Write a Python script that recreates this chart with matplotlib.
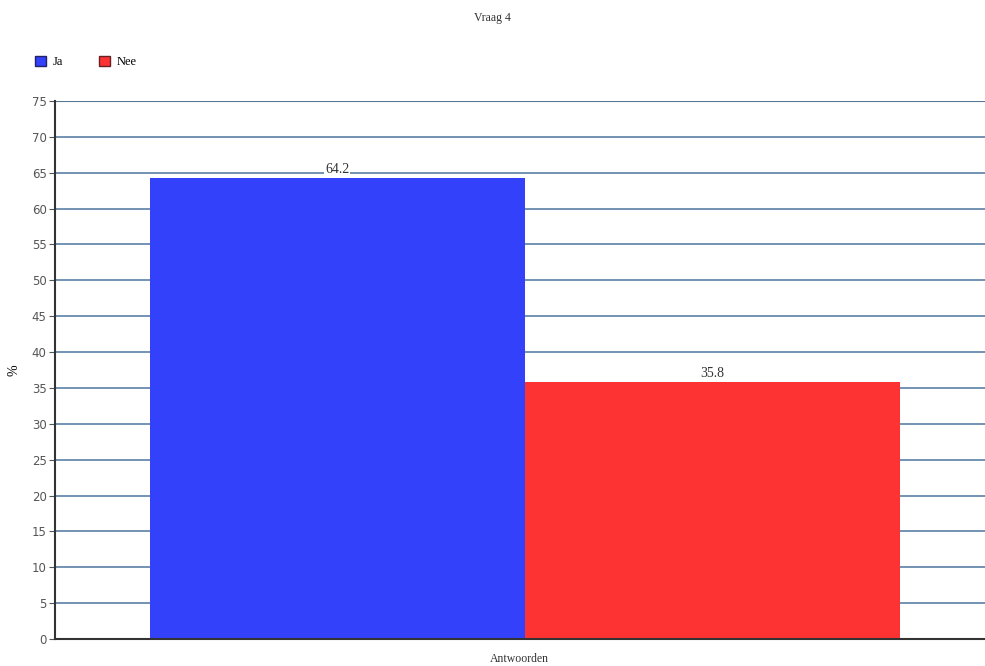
import matplotlib.pyplot as plt
import numpy as np

categories = ['Ja', 'Nee']
values = [64.2, 35.8]
colors = ['#3341fb', '#fd3333']
yticks = list(range(0, 80, 5))

fig = plt.figure(figsize=(9.85, 6.66), dpi=100)
ax = fig.add_axes([0.0558, 0.0405, 0.944, 0.808])

x = np.arange(len(categories))
bars = ax.bar(x, values, width=1.0, color=colors, zorder=2)

for b, v in zip(bars, values):
	ax.text(b.get_x() + b.get_width() / 2, v + 0.3, '{:.1f}'.format(v),
	        ha='center', va='bottom', fontsize=10, family='Liberation Serif',
	        color='#333333', zorder=3,
	        bbox=dict(facecolor='white', edgecolor='none', pad=0.5))

ax.set_xlim(-0.753, 1.727)
ax.set_ylim(0, 75)
ax.set_yticks(yticks)
ax.set_yticklabels([str(t) for t in yticks], fontsize=8.5, color='#555555')
ax.set_xticks([])
ax.yaxis.grid(True, color='#5b7fa6', linewidth=1.2, zorder=0)
ax.axhline(75, color='#444444', linewidth=1.5, zorder=1)
for s in ['top', 'right']:
	ax.spines[s].set_visible(False)
for s in ['left', 'bottom']:
	ax.spines[s].set_color('#333333')
	ax.spines[s].set_linewidth(1.5)
ax.tick_params(axis='y', length=4, color='#555555', pad=2)

ax.set_ylabel('%', fontsize=10, family='Liberation Serif', labelpad=8)
ax.set_xlabel('Antwoorden', fontsize=8.5, family='Liberation Serif', color='#333333', labelpad=10)

fig.text(0.5, 0.973, 'Vraag 4', ha='center', va='center', fontsize=8.5, family='Liberation Serif', color='#333333')

handles = [plt.Rectangle((0, 0), 1, 1, facecolor=c, edgecolor='#662222' if i else '#222266') for i, c in enumerate(colors)]
fig.legend(handles, categories, loc='center left', bbox_to_anchor=(0.024, 0.907), ncol=2,
           frameon=False, prop={'family': 'Liberation Serif', 'size': 9},
           handlelength=0.9, handleheight=0.9, handletextpad=0.5, columnspacing=2.9)

fig.savefig('out.png', dpi=100)
